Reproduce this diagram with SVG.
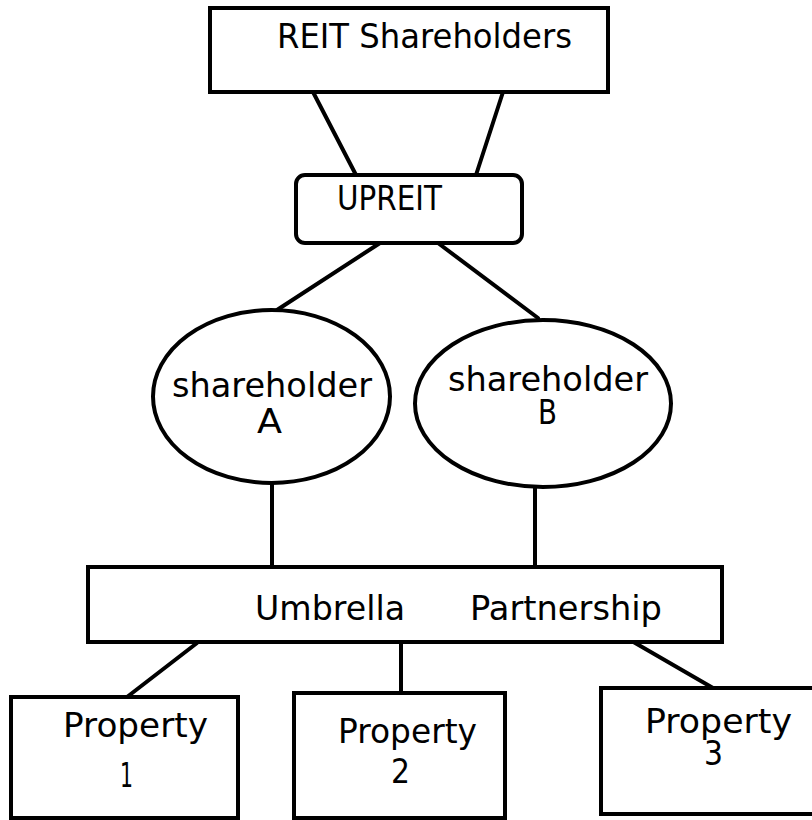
<svg xmlns="http://www.w3.org/2000/svg" width="812" height="820" viewBox="0 0 812 820">
<style>
.box{fill:#fff;stroke:#000;stroke-width:4}
.ln{stroke:#000;stroke-width:4;fill:none;stroke-linecap:round}
text{font-family:"DejaVu Sans","Liberation Sans",sans-serif;font-size:33px;fill:#000;font-weight:normal}
</style>
<rect width="812" height="820" fill="#fff"/>
<g id="connectors">
<line class="ln" x1="313" y1="92" x2="356" y2="175"/>
<line class="ln" x1="503" y1="92" x2="476" y2="175"/>
<line class="ln" x1="380" y1="243" x2="277" y2="310"/>
<line class="ln" x1="438" y1="243" x2="538" y2="318"/>
<line class="ln" x1="272" y1="483" x2="272" y2="567"/>
<line class="ln" x1="535" y1="487" x2="535" y2="565"/>
<line class="ln" x1="197" y1="643" x2="127" y2="697"/>
<line class="ln" x1="401" y1="643" x2="401" y2="693"/>
<line class="ln" x1="630" y1="640" x2="713" y2="688"/>
</g>
<g id="reit-shareholders">
<rect class="box" x="210" y="8" width="398" height="84"/>
<text x="277" y="48" textLength="295" lengthAdjust="spacingAndGlyphs">REIT Shareholders</text>
</g>
<g id="upreit">
<rect class="box" x="296" y="175" width="226" height="68" rx="9"/>
<text x="337" y="210" textLength="105" lengthAdjust="spacingAndGlyphs">UPREIT</text>
</g>
<g id="shareholder-a">
<ellipse class="box" cx="271.5" cy="396.5" rx="118.5" ry="86.5"/>
<text x="172" y="397" textLength="200" lengthAdjust="spacingAndGlyphs">shareholder</text>
<text x="257" y="433" textLength="25" lengthAdjust="spacingAndGlyphs">A</text>
</g>
<g id="shareholder-b">
<ellipse class="box" cx="543" cy="403.5" rx="128" ry="83.5"/>
<text x="448" y="391" textLength="200" lengthAdjust="spacingAndGlyphs">shareholder</text>
<text x="538" y="424" textLength="19" lengthAdjust="spacingAndGlyphs">B</text>
</g>
<g id="umbrella-partnership">
<rect class="box" x="88" y="567" width="634" height="75"/>
<text x="255" y="620" textLength="150" lengthAdjust="spacingAndGlyphs">Umbrella</text>
<text x="470" y="620" textLength="192" lengthAdjust="spacingAndGlyphs">Partnership</text>
</g>
<g id="property-1">
<rect class="box" x="11" y="697" width="227" height="121"/>
<text x="63" y="737" textLength="145" lengthAdjust="spacingAndGlyphs">Property</text>
<text x="120" y="787" textLength="13" lengthAdjust="spacingAndGlyphs">1</text>
</g>
<g id="property-2">
<rect class="box" x="294" y="693" width="211" height="125"/>
<text x="338" y="743" textLength="139" lengthAdjust="spacingAndGlyphs">Property</text>
<text x="391" y="783" textLength="19" lengthAdjust="spacingAndGlyphs">2</text>
</g>
<g id="property-3">
<rect class="box" x="601" y="688" width="230" height="126"/>
<text x="645" y="733" textLength="147" lengthAdjust="spacingAndGlyphs">Property</text>
<text x="704" y="765" textLength="19" lengthAdjust="spacingAndGlyphs">3</text>
</g>
</svg>
